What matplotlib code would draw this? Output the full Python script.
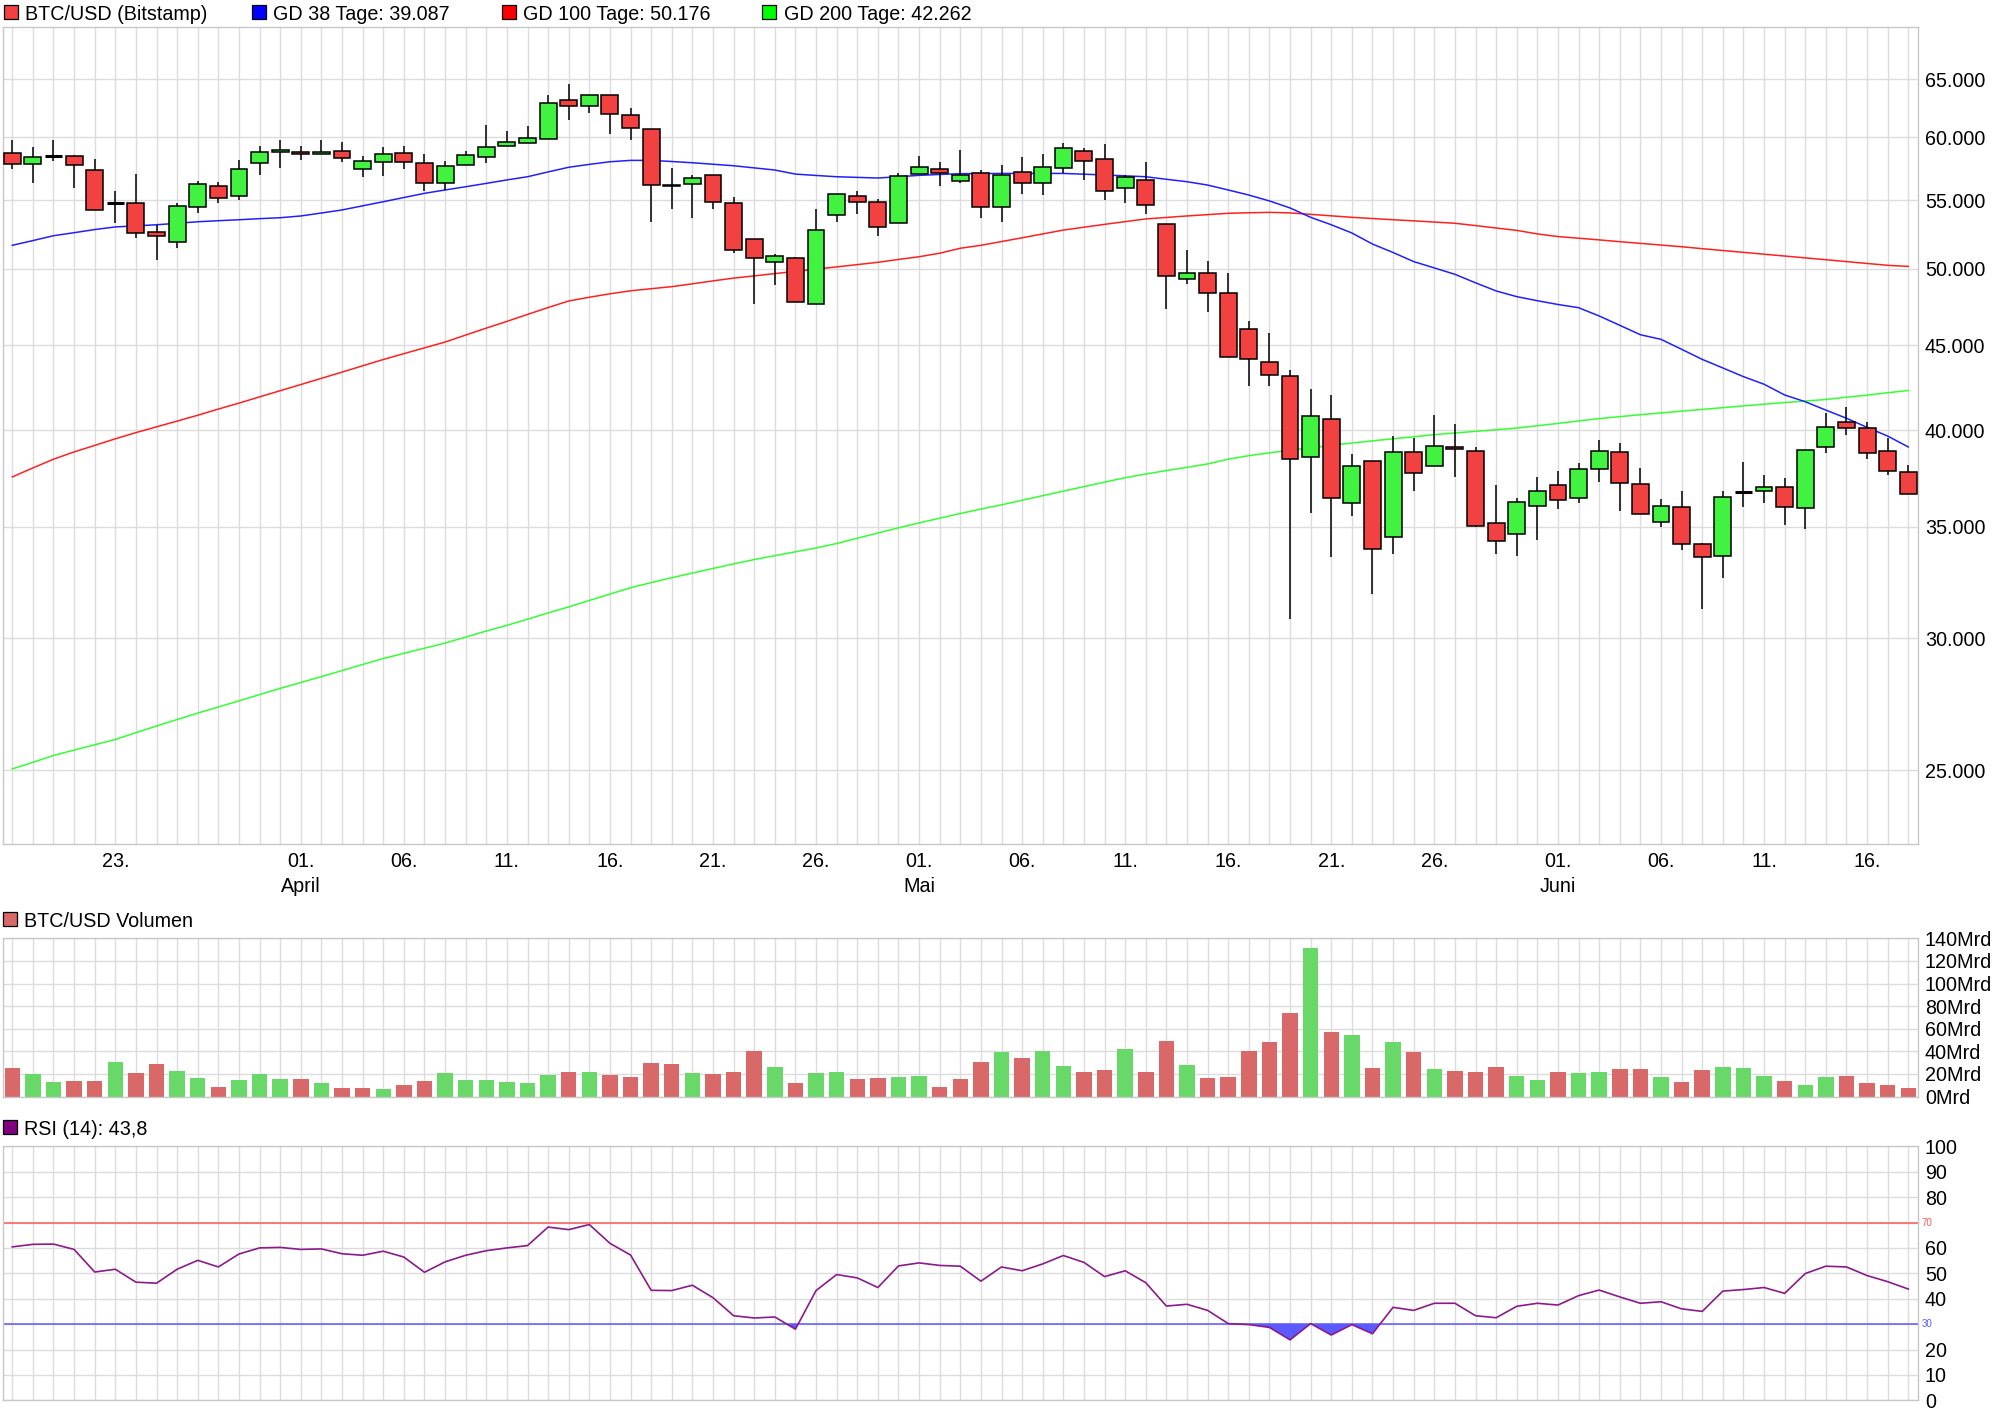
import matplotlib
matplotlib.use('Agg')
import matplotlib.pyplot as plt
import matplotlib.transforms as mtransforms
from matplotlib.patches import Rectangle
from matplotlib.ticker import NullLocator
import numpy as np

plt.rcParams['font.family'] = ['Liberation Sans', 'DejaVu Sans']

# ---------------- data (BTC/USD daily, 18.03. - 18.06.) ----------------
opens = [58670, 57780, 58420, 58420, 57300, 54780, 54750, 52640, 51870, 54450,
         56050, 55280, 57860, 58750, 58750, 58590, 58830, 57450, 57970, 58670,
         57860, 56280, 57700, 58340, 59230, 59480, 59820, 63130, 62610, 63570,
         61830, 60650, 56190, 56210, 56950, 54800, 52090, 50460, 50740, 47610,
         53850, 55280, 54830, 53250, 57020, 57450, 56440, 57070, 54450, 57150,
         56280, 57460, 58830, 58180, 55900, 56520, 53180, 49290, 49740, 48340,
         45990, 43940, 43100, 38530, 40600, 36160, 38320, 34490, 38800, 38060,
         39080, 38850, 35170, 34630, 36010, 37070, 36410, 37900, 38800, 37120,
         35230, 35950, 34160, 33600, 36710, 36760, 36960, 35900, 39070, 40440,
         40110, 38850, 37740]
highs = [59760, 59180, 59760, 58500, 58210, 55690, 56980, 53110, 54750, 56460,
         56380, 58130, 59260, 59760, 59260, 59760, 59600, 58450, 59180, 59260,
         58610, 58080, 58860, 61010, 60500, 60920, 63600, 64580, 63570, 63570,
         62440, 60700, 57490, 56970, 56950, 55250, 52090, 51070, 50830, 54320,
         55430, 55690, 55070, 57100, 58450, 57970, 58940, 57330, 57730, 58390,
         58620, 59490, 59080, 59440, 56940, 57940, 53180, 51320, 50550, 49700,
         46530, 45740, 43480, 42350, 42000, 38710, 38320, 39680, 39570, 40850,
         40330, 39080, 37070, 36410, 37500, 37810, 38210, 39460, 39280, 37960,
         36360, 36760, 34210, 36760, 38280, 37580, 37440, 38910, 40960, 41290,
         40440, 39570, 38120]
lows = [57440, 56330, 58080, 55940, 54230, 53300, 52200, 50590, 51490, 54040,
        54800, 55030, 56960, 57520, 58160, 58590, 57990, 56800, 56880, 57440,
        55720, 55770, 57700, 57910, 59230, 59480, 59820, 61460, 62070, 60280,
        59790, 53380, 54340, 53670, 54340, 51140, 47660, 48920, 47750, 47610,
        53380, 53960, 52340, 53250, 57020, 56100, 56330, 53670, 53380, 55480,
        55380, 57070, 56520, 55000, 54750, 53970, 47330, 48950, 47130, 44250,
        42540, 42540, 30820, 35690, 33580, 35540, 31900, 33720, 36800, 38060,
        37500, 34970, 33720, 33630, 34350, 35890, 36160, 37250, 35790, 35620,
        34980, 33880, 31220, 32590, 35990, 36160, 35100, 34880, 38780, 39720,
        38450, 37580, 36610]
closes = [57780, 58340, 58420, 57700, 54230, 54780, 52520, 52300, 54530, 56200,
          55120, 57450, 58750, 58940, 58590, 58750, 58260, 58020, 58590, 57940,
          56280, 57620, 58500, 59150, 59560, 59900, 62870, 62610, 63570, 61920,
          60730, 56130, 56050, 56700, 54830, 51300, 50740, 50880, 47750, 52740,
          55430, 54830, 52960, 56860, 57540, 57080, 56950, 54450, 56920, 56280,
          57540, 59080, 58020, 55660, 56750, 54600, 49490, 49740, 48390, 44250,
          44120, 43160, 38440, 40780, 36410, 38060, 33920, 38800, 37690, 39120,
          38970, 35020, 34300, 36210, 36800, 36340, 37900, 38850, 37170, 35620,
          36010, 34160, 33550, 36450, 36710, 36960, 35950, 38910, 40160, 40110,
          38740, 37790, 36610]

gd38 = [51660, 52000, 52350, 52570, 52800, 52990, 53070, 53150, 53260, 53370,
        53450, 53520, 53600, 53670, 53800, 54020, 54250, 54560, 54870, 55190,
        55510, 55770, 56020, 56280, 56550, 56800, 57180, 57550, 57780, 57990,
        58100, 58100, 58010, 57910, 57790, 57670, 57500, 57330, 57010, 56900,
        56800, 56750, 56700, 56800, 56910, 56980, 57040, 57050, 57060, 57060,
        57060, 57060, 57000, 56940, 56870, 56800, 56600, 56410, 56150, 55770,
        55380, 54930, 54400, 53700, 53150, 52550, 51750, 51150, 50510, 50070,
        49630, 49050, 48500, 48120, 47850, 47600, 47390, 46850, 46250, 45650,
        45360, 44740, 44120, 43600, 43080, 42630, 42000, 41610, 41130, 40670,
        40160, 39680, 39087]
gd100 = [37500, 37970, 38430, 38820, 39170, 39530, 39870, 40190, 40510, 40840,
         41190, 41530, 41890, 42250, 42610, 42980, 43350, 43730, 44110, 44470,
         44830, 45190, 45630, 46070, 46500, 46950, 47400, 47830, 48080, 48310,
         48510, 48650, 48790, 48980, 49180, 49370, 49520, 49680, 49830, 49990,
         50140, 50300, 50460, 50660, 50850, 51100, 51450, 51660, 51930, 52200,
         52480, 52760, 52970, 53180, 53380, 53580, 53690, 53800, 53900, 54000,
         54040, 54070, 54030, 53920, 53810, 53700, 53610, 53520, 53440, 53350,
         53260, 53090, 52910, 52740, 52480, 52290, 52170, 52050, 51920, 51800,
         51680, 51560, 51420, 51290, 51160, 51030, 50900, 50770, 50640, 50510,
         50380, 50250, 50176]
gd200 = [25040, 25270, 25510, 25700, 25890, 26080, 26330, 26570, 26810, 27050,
         27280, 27510, 27750, 27990, 28220, 28450, 28690, 28930, 29170, 29380,
         29590, 29800, 30050, 30300, 30540, 30800, 31070, 31330, 31610, 31890,
         32170, 32400, 32620, 32830, 33040, 33250, 33450, 33630, 33810, 33990,
         34200, 34450, 34700, 34950, 35190, 35420, 35650, 35870, 36080, 36310,
         36540, 36770, 37000, 37230, 37460, 37650, 37830, 38000, 38180, 38430,
         38620, 38770, 38910, 39040, 39170, 39300, 39420, 39530, 39640, 39760,
         39850, 39940, 40030, 40120, 40250, 40380, 40520, 40650, 40760, 40870,
         40970, 41070, 41170, 41270, 41370, 41470, 41560, 41650, 41740, 41870,
         41990, 42130, 42262]

volume = [25.5, 20.2, 13.1, 13.9, 13.9, 30.9, 21.1, 29.1, 22.8, 16.6,
          8.6, 14.8, 20.2, 15.7, 15.7, 12.2, 7.7, 7.7, 6.8, 10.4,
          13.9, 21.1, 14.8, 14.8, 13.1, 12.2, 19.3, 22.0, 22.0, 19.3,
          17.5, 30.0, 29.1, 21.1, 20.2, 22.0, 40.6, 26.4, 12.2, 21.1,
          22.0, 15.7, 16.6, 17.5, 18.4, 8.6, 15.7, 30.9, 39.8, 34.4,
          40.6, 27.3, 22.0, 23.7, 42.4, 22.0, 49.5, 28.2, 16.6, 17.5,
          40.6, 47.8, 73.6, 131.4, 56.7, 54.0, 25.5, 47.8, 39.8, 24.6,
          22.8, 22.0, 26.4, 18.4, 14.8, 22.0, 21.1, 22.0, 24.6, 24.6,
          17.5, 13.1, 23.7, 26.4, 25.5, 18.4, 13.9, 10.4, 17.5, 18.4,
          12.2, 10.4, 7.7]

rsi = [60.4, 61.4, 61.5, 59.4, 50.5, 51.6, 46.5, 46.1, 51.6, 55.1,
       52.5, 57.6, 60.0, 60.2, 59.4, 59.6, 57.7, 57.1, 58.7, 56.4,
       50.4, 54.5, 57.1, 58.9, 60.0, 60.9, 68.2, 67.2, 69.2, 61.8,
       57.2, 43.3, 43.2, 45.3, 40.4, 33.3, 32.4, 32.8, 28.0, 43.2,
       49.5, 48.2, 44.4, 52.9, 54.1, 53.1, 52.8, 46.9, 52.5, 51.0,
       53.7, 57.0, 54.3, 48.7, 51.0, 46.3, 37.1, 37.8, 35.4, 30.2,
       29.8, 28.7, 23.8, 30.2, 25.7, 29.8, 26.2, 36.6, 35.4, 38.2,
       38.2, 33.3, 32.5, 37.0, 38.2, 37.5, 41.2, 43.4, 40.7, 38.2,
       38.8, 36.0, 35.0, 43.0, 43.6, 44.4, 42.1, 49.9, 52.8, 52.5,
       49.1, 46.7, 43.8]

x_tick_pos = [5, 14, 19, 24, 29, 34, 39, 44, 49, 54, 59, 64, 69, 75, 80, 85, 90]
x_tick_lbl = ['23.', '01.\nApril', '06.', '11.', '16.', '21.', '26.', '01.\nMai',
              '06.', '11.', '16.', '21.', '26.', '01.\nJuni', '06.', '11.', '16.']
price_ticks = [25000, 30000, 35000, 40000, 45000, 50000, 55000, 60000, 65000]
vol_ticks = [0, 20, 40, 60, 80, 100, 120, 140]
rsi_ticks = [0, 10, 20, 30, 40, 50, 60, 70, 80, 90, 100]

legend_price = ['BTC/USD (Bitstamp)', 'GD 38 Tage: 39.087', 'GD 100 Tage: 50.176', 'GD 200 Tage: 42.262']
legend_vol = 'BTC/USD Volumen'
legend_rsi = 'RSI (14): 43,8'

# ---------------- style ----------------
W, H = 1997, 1422
C_UP, C_DN = '#41F241', '#F24141'
V_UP, V_DN = '#68D968', '#D96868'
GRID = '#DCDCDC'
FS = 14.2

O = np.array(opens, float); Hh = np.array(highs, float)
L = np.array(lows, float); C = np.array(closes, float)
n = len(O)
x = np.arange(n)

fig = plt.figure(figsize=(W / 100, H / 100), dpi=100)


def ax_rect(left, top, right, bottom):
    return [left / W, 1 - bottom / H, (right - left) / W, (bottom - top) / H]


ax_p = fig.add_axes(ax_rect(3, 26.7, 1918, 844))
ax_v = fig.add_axes(ax_rect(3, 938.3, 1918, 1096.5))
ax_r = fig.add_axes(ax_rect(3, 1146.3, 1918, 1400.3))

XL = (-0.45, 92.47)
for ax in (ax_p, ax_v, ax_r):
    ax.set_xlim(*XL)
    for s in ax.spines.values():
        s.set_color('#C8C8C8')
        s.set_linewidth(1.0)
    ax.set_xticks(x, minor=True)
    ax.grid(True, which='minor', axis='x', color=GRID, linewidth=1.0, zorder=0)
    ax.set_axisbelow(True)
    ax.yaxis.tick_right()
    ax.tick_params(axis='both', which='both', length=0, labelsize=FS, pad=5)

# ---------------- price panel ----------------
ax_p.set_yscale('log')
ax_p.set_ylim(22570, 69900)
ax_p.yaxis.set_minor_locator(NullLocator())
ax_p.set_yticks(price_ticks)
ax_p.set_yticklabels([f"{v:,}".replace(',', '.') for v in price_ticks])
ax_p.grid(True, which='major', axis='y', color=GRID, linewidth=1.0, zorder=0)
ax_p.set_xticks(x_tick_pos)
ax_p.set_xticklabels(x_tick_lbl, linespacing=1.42)
ax_p.tick_params(axis='x', pad=5.5)
ax_p.grid(True, which='major', axis='x', color=GRID, linewidth=1.0, zorder=0)

ax_p.plot(x, gd200, color='#33FF33', lw=1.1, zorder=2)
ax_p.plot(x, gd100, color='#FF2020', lw=1.1, zorder=2)
ax_p.plot(x, gd38, color='#2020FF', lw=1.1, zorder=2)

ax_p.vlines(x, L, Hh, color='black', lw=1.1, zorder=3)
up = C > O
dn = C < O
dj = C == O
bw = 0.82
ax_p.bar(x[up], (C - O)[up], bottom=O[up], width=bw, color=C_UP,
         edgecolor='black', linewidth=1.1, zorder=4)
ax_p.bar(x[dn], (O - C)[dn], bottom=C[dn], width=bw, color=C_DN,
         edgecolor='black', linewidth=1.1, zorder=4)
ax_p.hlines(C[dj], x[dj] - bw / 2, x[dj] + bw / 2, color='black', lw=2.2, zorder=4)

# ---------------- volume panel ----------------
vcol = []
for i in range(n):
    if i == 0:
        vcol.append(V_DN if C[0] < O[0] else V_UP)
    else:
        vcol.append(V_DN if C[i] < C[i - 1] else V_UP)
ax_v.bar(x, volume, width=0.75, color=vcol, zorder=2)
ax_v.set_ylim(0, 140)
ax_v.set_yticks(vol_ticks)
ax_v.set_yticklabels([f"{v}Mrd" for v in vol_ticks])
ax_v.grid(True, which='major', axis='y', color=GRID, linewidth=1.0, zorder=0)
ax_v.set_xticks([])

# ---------------- RSI panel ----------------
r = np.array(rsi)
ax_r.set_ylim(0, 100)
ax_r.set_yticks(rsi_ticks)
ax_r.set_yticklabels(['' if v in (30, 70) else str(v) for v in rsi_ticks])
ax_r.grid(True, which='major', axis='y', color=GRID, linewidth=1.0, zorder=0)
ax_r.set_xticks([])
ax_r.axhline(70, color='#FF5A5A', lw=1.1, zorder=2)
ax_r.axhline(30, color='#5A5AFF', lw=1.1, zorder=2)
ax_r.fill_between(x, r, 30, where=r < 30, interpolate=True, color='#5A5AFF',
                  linewidth=0, zorder=2)
ax_r.plot(x, r, color='#8B1A8B', lw=1.2, zorder=3)
tr = mtransforms.blended_transform_factory(ax_r.transAxes, ax_r.transData)
ax_r.text(1.002, 70, '70', transform=tr, fontsize=7, color='#FF5A5A', va='center', ha='left')
ax_r.text(1.002, 30, '30', transform=tr, fontsize=7, color='#5A5AFF', va='center', ha='left')

# ---------------- legends (figure coordinates in pixels) ----------------


def box(xp, yp, color, size=14):
    fig.add_artist(Rectangle((xp / W, 1 - (yp + size) / H), size / W, size / H,
                             transform=fig.transFigure, facecolor=color,
                             edgecolor='black', linewidth=0.9))


def ftext(xp, yp, s):
    fig.text(xp / W, 1 - yp / H, s, fontsize=FS, va='center', ha='left')


box(4, 5, C_DN)
ftext(25, 14.5, legend_price[0])
box(252, 5, '#0000FF')
ftext(273, 14.5, legend_price[1])
box(502, 5, '#FF0000')
ftext(523, 14.5, legend_price[2])
box(762, 5, '#00FF00')
ftext(784, 14.5, legend_price[3])

box(3, 912, V_DN)
ftext(24, 921.5, legend_vol)

box(3, 1120, '#800080')
ftext(24, 1129.5, legend_rsi)

fig.savefig('out.png', dpi=100, facecolor='white')
